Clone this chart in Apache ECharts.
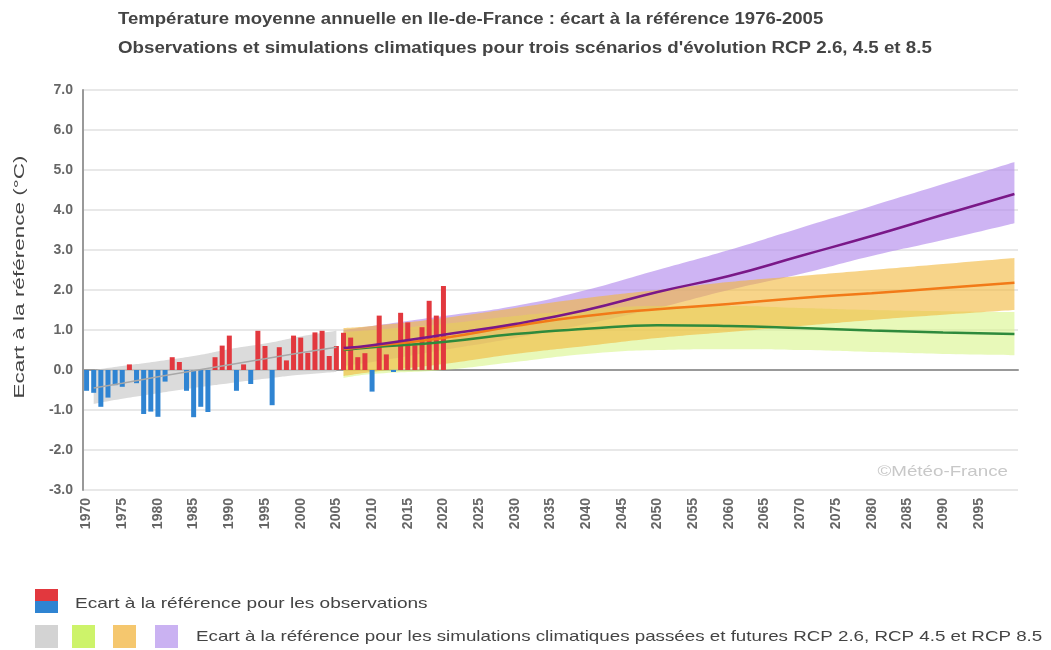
<!DOCTYPE html>
<html>
<head>
<meta charset="utf-8">
<title>Température moyenne annuelle en Ile-de-France</title>
<script src="https://cdn.jsdelivr.net/npm/echarts@6.0.0/dist/echarts.min.js"></script>
<style>
    html, body { margin: 0; padding: 0; background: #fff; }
    #chart { width: 1051px; height: 650px; }
</style>
</head>
<body>
<div id="chart"></div>
<script>
    // années de l'axe x (1970 -> 2100)
    var years = [];
    for (var y = 1970; y <= 2100; y++) {
        years.push(String(y));
    }

    // écarts observés 1970-2020 (°C)
    var obsValues = [
        -0.52, -0.57, -0.92, -0.69, -0.38, -0.42, 0.14, -0.33, -1.10, -1.04,
        -1.17, -0.29, 0.32, 0.20, -0.52, -1.18, -0.92, -1.05, 0.32, 0.61,
        0.86, -0.52, 0.14, -0.35, 0.98, 0.60, -0.88, 0.57, 0.24, 0.86,
        0.81, 0.43, 0.94, 0.98, 0.35, 0.60, 0.93, 0.81, 0.32, 0.42,
        -0.54, 1.36, 0.39, -0.05, 1.43, 1.19, 0.62, 1.07, 1.73, 1.36,
        2.10
    ];

    // simulations passées (bande grise)
    var pastYears = ['1971', '1975', '1980', '1985', '1990', '1995', '2000', '2005'];
    var pastMean = [-0.45, -0.33, -0.17, -0.02, 0.13, 0.28, 0.43, 0.57];
    var pastLow = [-0.85, -0.72, -0.58, -0.45, -0.33, -0.22, -0.12, -0.05];
    var pastHigh = [0.00, 0.10, 0.22, 0.35, 0.52, 0.66, 0.84, 0.98];

    // simulations futures
    var futureYears = ['2006', '2010', '2020', '2030', '2040', '2050', '2060', '2070', '2080', '2090', '2100'];
    var rcp26 = [0.50, 0.57, 0.70, 0.90, 1.03, 1.12, 1.10, 1.05, 0.99, 0.94, 0.90];
    var rcp26Low = [-0.20, -0.10, 0.00, 0.20, 0.40, 0.50, 0.52, 0.50, 0.45, 0.40, 0.37];
    var rcp26High = [0.95, 1.00, 1.15, 1.35, 1.50, 1.60, 1.60, 1.55, 1.50, 1.47, 1.45];
    var rcp45 = [0.52, 0.60, 0.80, 1.10, 1.35, 1.52, 1.65, 1.80, 1.92, 2.05, 2.18];
    var rcp45Low = [-0.15, -0.05, 0.15, 0.40, 0.60, 0.80, 0.95, 1.10, 1.25, 1.38, 1.50];
    var rcp45High = [1.05, 1.10, 1.30, 1.55, 1.80, 2.00, 2.20, 2.35, 2.50, 2.65, 2.80];
    var rcp85 = [0.55, 0.62, 0.88, 1.15, 1.50, 1.95, 2.35, 2.85, 3.35, 3.88, 4.40];
    var rcp85Low = [0.10, 0.20, 0.50, 0.80, 1.15, 1.55, 2.00, 2.40, 2.85, 3.25, 3.67];
    var rcp85High = [1.00, 1.10, 1.35, 1.60, 2.00, 2.50, 3.00, 3.55, 4.10, 4.65, 5.20];

    var yTicks = [-3, -2, -1, 0, 1, 2, 3, 4, 5, 6, 7];

    var FONT = 'Liberation Sans, Arial, sans-serif';

    function pairs(xs, vs) {
        return xs.map(function (x, i) { return [x, vs[i]]; });
    }

    // bande = série de base transparente + épaisseur empilée
    function band(id, xs, low, high, color, opacity, z) {
        return [{
            name: id + '-base',
            type: 'line',
            stack: id,
            stackStrategy: 'all',
            smooth: true,
            silent: true,
            symbol: 'none',
            lineStyle: { opacity: 0 },
            z: z,
            data: pairs(xs, low)
        }, {
            name: id,
            type: 'line',
            stack: id,
            stackStrategy: 'all',
            smooth: true,
            silent: true,
            symbol: 'none',
            lineStyle: { opacity: 0 },
            areaStyle: { color: color, opacity: opacity },
            z: z,
            data: xs.map(function (x, i) { return [x, +(high[i] - low[i]).toFixed(2)]; })
        }];
    }

    function curve(name, xs, vs, color, width) {
        return {
            name: name,
            type: 'line',
            smooth: true,
            silent: true,
            symbol: 'none',
            lineStyle: { color: color, width: width },
            z: 5,
            data: pairs(xs, vs)
        };
    }

    // texte étiré horizontalement (police étroite du graphique d'origine)
    function label(x, y, text, size, opts) {
        opts = opts || {};
        return {
            type: 'text',
            x: x,
            y: y,
            scaleX: opts.scaleX || 1,
            rotation: opts.rotation || 0,
            silent: true,
            style: {
                text: text,
                fill: opts.color || '#444',
                fontSize: size,
                fontWeight: opts.bold ? 'bold' : 'normal',
                fontFamily: FONT,
                align: opts.align || 'left',
                verticalAlign: 'middle'
            }
        };
    }

    var chart = echarts.init(document.getElementById('chart'));

    var series = [].concat(
        band('passe', pastYears, pastLow, pastHigh, '#cfcfcf', 0.75, 1),
        band('rcp85', futureYears, rcp85Low, rcp85High, '#b48cec', 0.65, 1),
        band('rcp26', futureYears, rcp26Low, rcp26High, '#d8f58a', 0.6, 1),
        band('rcp45', futureYears, rcp45Low, rcp45High, '#f2b73a', 0.6, 1),
        [{
            name: 'observations',
            type: 'bar',
            barWidth: 5,
            silent: true,
            z: 3,
            itemStyle: {
                color: function (p) { return p.value >= 0 ? '#e2383e' : '#2f84d2'; }
            },
            data: obsValues
        },
        curve('simul-passe', pastYears, pastMean, '#a8a8a8', 1.5),
        curve('RCP 2.6', futureYears, rcp26, '#2e8a3c', 2.5),
        curve('RCP 4.5', futureYears, rcp45, '#f27a18', 2.5),
        curve('RCP 8.5', futureYears, rcp85, '#7a1888', 2.5)]
    );

    var option = {
        animation: false,
        grid: { left: 83, right: 33, top: 90, bottom: 160 },
        xAxis: {
            type: 'category',
            data: years,
            boundaryGap: true,
            axisLine: { lineStyle: { color: '#999', width: 2 } },
            axisTick: { show: false },
            axisLabel: {
                rotate: 90,
                margin: 8,
                color: '#666',
                fontWeight: 'bold',
                fontSize: 14,
                fontFamily: FONT,
                interval: function (i, v) { return +v % 5 === 0 && v !== '2100'; }
            },
            splitLine: { show: false }
        },
        yAxis: {
            type: 'value',
            min: yTicks[0],
            max: yTicks[yTicks.length - 1],
            interval: 1,
            axisLine: { show: true, lineStyle: { color: '#999', width: 2 } },
            axisTick: { show: false },
            axisLabel: {
                margin: 10,
                color: '#666',
                fontWeight: 'bold',
                fontSize: 14,
                fontFamily: FONT,
                formatter: function (v) { return v.toFixed(1); }
            },
            splitLine: { lineStyle: { color: '#e8e8e8', width: 2 } }
        },
        graphic: [
            // titres
            label(118, 20, 'Température moyenne annuelle en Ile-de-France : écart à la référence 1976-2005', 16, { bold: true, scaleX: 1.16 }),
            label(118, 49, 'Observations et simulations climatiques pour trois scénarios d\'évolution RCP 2.6, 4.5 et 8.5', 16, { bold: true, scaleX: 1.17 }),
            // nom de l'axe y
            label(20, 277, 'Ecart à la référence (°C)', 15, { rotation: Math.PI / 2, scaleX: 1.5, align: 'center' }),
            // filigrane
            label(1008, 472, '©Météo-France', 15, { color: '#c8c8c8', align: 'right', scaleX: 1.25 }),
            // légende
            { type: 'rect', left: 35, top: 589, shape: { width: 23, height: 12 }, style: { fill: '#e2383e' } },
            { type: 'rect', left: 35, top: 601, shape: { width: 23, height: 12 }, style: { fill: '#2f84d2' } },
            label(75, 604, 'Ecart à la référence pour les observations', 15, { scaleX: 1.27 }),
            { type: 'rect', left: 35, top: 625, shape: { width: 23, height: 23 }, style: { fill: '#d3d3d3' } },
            { type: 'rect', left: 72, top: 625, shape: { width: 23, height: 23 }, style: { fill: '#cdf36a' } },
            { type: 'rect', left: 113, top: 625, shape: { width: 23, height: 23 }, style: { fill: '#f5c76e' } },
            { type: 'rect', left: 155, top: 625, shape: { width: 23, height: 23 }, style: { fill: '#cab2f2' } },
            label(196, 637, 'Ecart à la référence pour les simulations climatiques passées et futures RCP 2.6, RCP 4.5 et RCP 8.5', 15, { scaleX: 1.25 })
        ],
        series: series
    };

    chart.setOption(option);
</script>
</body>
</html>
